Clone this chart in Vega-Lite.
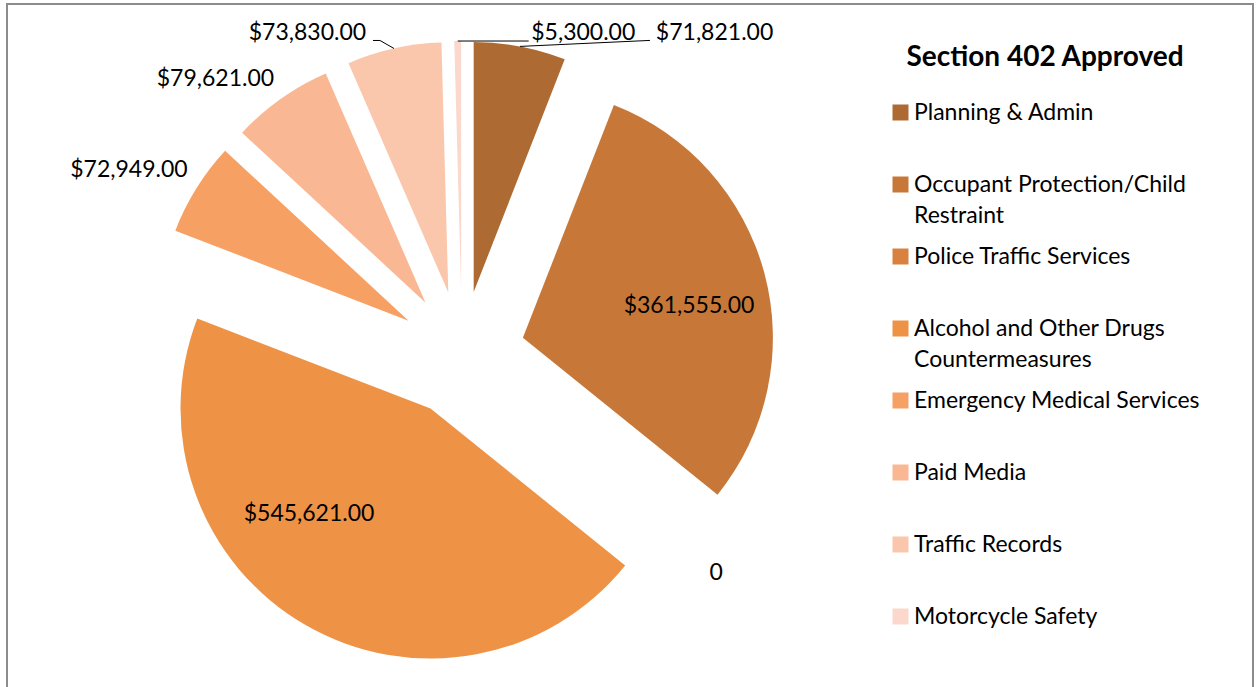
{
  "$schema": "https://vega.github.io/schema/vega-lite/v6.json",
  "width": 1246,
  "height": 684,
  "autosize": {"type": "none"},
  "padding": {"left": 7, "top": 4, "right": 4, "bottom": -1},
  "background": "white",
  "config": {
    "view": {"stroke": "#8c8c8c", "strokeWidth": 2},
    "text": {"font": "Lato", "fontSize": 23, "color": "#000000"}
  },
  "data": {
    "values": [
      {"category": "Planning & Admin", "value": 71821},
      {"category": "Occupant Protection/Child Restraint", "value": 361555},
      {"category": "Police Traffic Services", "value": 0},
      {"category": "Alcohol and Other Drugs Countermeasures", "value": 545621},
      {"category": "Emergency Medical Services", "value": 72949},
      {"category": "Paid Media", "value": 79621},
      {"category": "Traffic Records", "value": 73830},
      {"category": "Motorcycle Safety", "value": 5300}
    ]
  },
  "transform": [
    {"joinaggregate": [{"op": "sum", "field": "value", "as": "total"}]},
    {"window": [{"op": "sum", "field": "value", "as": "cum"}], "frame": [null, 0]},
    {"calculate": "(datum.cum - datum.value) / datum.total", "as": "t0"},
    {"calculate": "datum.cum / datum.total", "as": "t1"},
    {"calculate": "PI * (datum.t0 + datum.t1)", "as": "mid"},
    {"calculate": "63 * sin(datum.mid)", "as": "vx"},
    {"calculate": "63 * cos(datum.mid)", "as": "vy"},
    {"calculate": "313 * sin(datum.mid)", "as": "ax"},
    {"calculate": "313 * cos(datum.mid)", "as": "ay"},
    {"calculate": "343 * sin(datum.mid)", "as": "ox"},
    {"calculate": "343 * cos(datum.mid)", "as": "oy"},
    {"calculate": "238 * sin(datum.mid)", "as": "ix"},
    {"calculate": "238 * cos(datum.mid)", "as": "iy"},
    {"calculate": "datum.value == 0 ? '0' : format(datum.value, '$,.2f')", "as": "label"}
  ],
  "layer": [
    {
      "mark": {"type": "arc", "radius": 250, "strokeWidth": 0},
      "encoding": {
        "x": {"field": "vx", "type": "quantitative", "scale": {"domain": [-455, 791], "nice": false, "zero": false}, "axis": null},
        "y": {"field": "vy", "type": "quantitative", "scale": {"domain": [-334, 350], "nice": false, "zero": false}, "axis": null},
        "theta": {"field": "t0", "type": "quantitative", "scale": {"domain": [0, 1], "range": [0, 6.283185307179586]}, "stack": null},
        "theta2": {"field": "t1"},
        "color": {
          "field": "category",
          "type": "nominal",
          "sort": null,
          "scale": {
            "domain": ["Planning & Admin", "Occupant Protection/Child Restraint", "Police Traffic Services", "Alcohol and Other Drugs Countermeasures", "Emergency Medical Services", "Paid Media", "Traffic Records", "Motorcycle Safety"],
            "range": ["#ad6a32", "#c77838", "#d9823f", "#ee9245", "#f7a064", "#f9b893", "#fac7ad", "#fbd8cb"]
          },
          "legend": {
            "title": "Section 402 Approved",
            "orient": "none",
            "legendX": 882,
            "legendY": 40,
            "padding": 0,
            "symbolType": "square",
            "symbolSize": 256,
            "symbolStrokeWidth": 0,
            "symbolOpacity": 1,
            "labelFont": "Lato",
            "labelFontSize": 23,
            "labelColor": "#000000",
            "labelOffset": 2,
            "labelLimit": 400,
            "titleFont": "Lato",
            "titleFontSize": 28,
            "titleFontWeight": "bold",
            "titleColor": "#000000",
            "titleLimit": 500,
            "titleAnchor": "middle",
            "titlePadding": 29,
            "gridAlign": "all",
            "rowPadding": 17,
            "labelExpr": "datum.label == 'Occupant Protection/Child Restraint' ? ['Occupant Protection/Child', 'Restraint'] : datum.label == 'Alcohol and Other Drugs Countermeasures' ? ['Alcohol and Other Drugs', 'Countermeasures'] : datum.label",
            "encode": {"labels": {"update": {"lineHeight": {"value": 31}}}}
          }
        }
      }
    },
    {
      "transform": [{"filter": "datum.category == 'Planning & Admin'"}, {"calculate": "datum.ax + 130", "as": "ex"}, {"calculate": "datum.ay + 6", "as": "ey"}],
      "mark": {"type": "rule", "color": "#000000", "strokeWidth": 1},
      "encoding": {"x": {"field": "ax", "type": "quantitative"}, "y": {"field": "ay", "type": "quantitative"}, "x2": {"field": "ex"}, "y2": {"field": "ey"}}
    },
    {
      "transform": [{"filter": "datum.category == 'Motorcycle Safety'"}, {"calculate": "datum.ax + 71", "as": "ex"}],
      "mark": {"type": "rule", "color": "#000000", "strokeWidth": 1},
      "encoding": {"x": {"field": "ax", "type": "quantitative"}, "y": {"field": "ay", "type": "quantitative"}, "x2": {"field": "ex"}, "y2": {"field": "ay"}}
    },
    {
      "transform": [{"filter": "datum.category == 'Traffic Records'"}, {"calculate": "datum.ax - 14", "as": "ex"}, {"calculate": "datum.ay + 8", "as": "ey"}],
      "mark": {"type": "rule", "color": "#000000", "strokeWidth": 1},
      "encoding": {"x": {"field": "ax", "type": "quantitative"}, "y": {"field": "ay", "type": "quantitative"}, "x2": {"field": "ex"}, "y2": {"field": "ey"}}
    },
    {
      "transform": [{"filter": "datum.category == 'Traffic Records'"}, {"calculate": "datum.ax - 14", "as": "sx"}, {"calculate": "datum.ax - 21", "as": "ex"}, {"calculate": "datum.ay + 8", "as": "ey"}],
      "mark": {"type": "rule", "color": "#000000", "strokeWidth": 1},
      "encoding": {"x": {"field": "sx", "type": "quantitative"}, "y": {"field": "ey", "type": "quantitative"}, "x2": {"field": "ex"}, "y2": {"field": "ey"}}
    },
    {
      "transform": [{"filter": "datum.category == 'Planning & Admin'"}],
      "mark": {"type": "text", "dx": 189, "dy": 16},
      "encoding": {"x": {"field": "ox", "type": "quantitative"}, "y": {"field": "oy", "type": "quantitative"}, "text": {"field": "label"}}
    },
    {
      "transform": [{"filter": "datum.category == 'Motorcycle Safety'"}],
      "mark": {"type": "text", "dx": 126, "dy": 22},
      "encoding": {"x": {"field": "ox", "type": "quantitative"}, "y": {"field": "oy", "type": "quantitative"}, "text": {"field": "label"}}
    },
    {
      "transform": [{"filter": "datum.category == 'Traffic Records'"}],
      "mark": {"type": "text", "dx": -80, "dy": 14},
      "encoding": {"x": {"field": "ox", "type": "quantitative"}, "y": {"field": "oy", "type": "quantitative"}, "text": {"field": "label"}}
    },
    {
      "transform": [{"filter": "datum.category == 'Paid Media'"}],
      "mark": {"type": "text", "dx": -48, "dy": 5},
      "encoding": {"x": {"field": "ox", "type": "quantitative"}, "y": {"field": "oy", "type": "quantitative"}, "text": {"field": "label"}}
    },
    {
      "transform": [{"filter": "datum.category == 'Emergency Medical Services'"}],
      "mark": {"type": "text", "dx": -42, "dy": -2},
      "encoding": {"x": {"field": "ox", "type": "quantitative"}, "y": {"field": "oy", "type": "quantitative"}, "text": {"field": "label"}}
    },
    {
      "transform": [{"filter": "datum.category == 'Police Traffic Services'"}],
      "mark": {"type": "text", "dx": -13, "dy": 4},
      "encoding": {"x": {"field": "ox", "type": "quantitative"}, "y": {"field": "oy", "type": "quantitative"}, "text": {"field": "label"}}
    },
    {
      "transform": [{"filter": "datum.category == 'Occupant Protection/Child Restraint'"}],
      "mark": {"type": "text", "dx": -3, "dy": 13},
      "encoding": {"x": {"field": "ix", "type": "quantitative"}, "y": {"field": "iy", "type": "quantitative"}, "text": {"field": "label"}}
    },
    {
      "transform": [{"filter": "datum.category == 'Alcohol and Other Drugs Countermeasures'"}],
      "mark": {"type": "text", "dx": -34, "dy": -46},
      "encoding": {"x": {"field": "ix", "type": "quantitative"}, "y": {"field": "iy", "type": "quantitative"}, "text": {"field": "label"}}
    }
  ]
}
